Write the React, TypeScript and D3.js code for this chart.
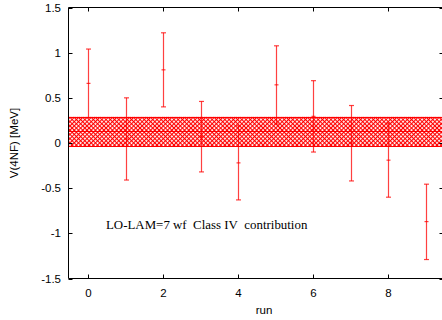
import React from "react";
import * as d3 from "d3";

const runs = [0, 1, 2, 3, 4, 5, 6, 7, 8, 9];
const centers = [0.66, 0.045, 0.81, 0.07, -0.22, 0.644, 0.295, 0.0, -0.19, -0.87];
const lows = [0.28, -0.41, 0.4, -0.32, -0.63, 0.21, -0.1, -0.42, -0.6, -1.29];
const highs = [1.04, 0.5, 1.22, 0.46, 0.19, 1.076, 0.69, 0.415, 0.22, -0.456];
const bandLow = -0.035;
const bandMid = 0.128;
const bandHigh = 0.29;
const xTicks = [0, 2, 4, 6, 8];
const yTicks = [-1.5, -1, -0.5, 0, 0.5, 1, 1.5];
const yTickLabels = ["-1.5", "-1", "-0.5", "0", "0.5", "1", "1.5"];
const annotation = "LO-LAM=7 wf  Class IV  contribution";

export default function App() {
  const W = 442, H = 320;
  const left = 68.5, right = 443.5, top = 7.5, bottom = 278.5;
  const x = d3.scaleLinear().domain([-0.53, 9.47]).range([left, right]);
  const y = d3.scaleLinear().domain([-1.5, 1.5]).range([bottom, top]);
  const red = "#ff0000";
  const font = "'Liberation Sans', Arial, sans-serif";
  return (
    <svg width={W} height={H} style={{ position: "absolute", left: 0, top: 0 }}>
      <defs>
        <pattern id="hatch" width="3" height="3" patternUnits="userSpaceOnUse" patternTransform="rotate(45)">
          <rect width="3" height="3" fill="white" />
          <rect x="0" y="0" width="3" height="1.1" fill={red} />
          <rect x="0" y="0" width="1.1" height="3" fill={red} />
        </pattern>
      </defs>
      <rect x={0} y={0} width={W} height={H} fill="white" />
      {/* band */}
      <rect x={left} y={y(bandHigh)} width={right - left} height={y(bandLow) - y(bandHigh)} fill="url(#hatch)" />
      {[bandHigh, bandMid, bandLow].map((v, i) => (
        <line key={i} x1={left} x2={right} y1={Math.round(y(v)) + 0.5} y2={Math.round(y(v)) + 0.5} stroke={red} strokeWidth={i === 1 ? 1 : 1.2} />
      ))}
      {/* error bars */}
      {runs.map((r, i) => {
        const cx = Math.round(x(r)) + 0.5;
        return (
          <g key={r} stroke={red} strokeOpacity={0.75} strokeWidth={1.2}>
            <line x1={cx} x2={cx} y1={y(highs[i])} y2={y(lows[i])} />
            <line x1={cx - 2.5} x2={cx + 2.5} y1={y(highs[i])} y2={y(highs[i])} />
            <line x1={cx - 2.5} x2={cx + 2.5} y1={y(lows[i])} y2={y(lows[i])} />
            <line x1={cx - 2} x2={cx + 2} y1={y(centers[i])} y2={y(centers[i])} />
          </g>
        );
      })}
      {/* frame */}
      <g stroke="black" strokeWidth={1} fill="none">
        <line x1={left} x2={left} y1={top} y2={bottom} />
        <line x1={left} x2={right} y1={top} y2={top} />
        <line x1={left} x2={right} y1={bottom} y2={bottom} />
        <line x1={right} x2={right} y1={top} y2={bottom} />
        {yTicks.map((t) => (
          <g key={t}>
            <line x1={left} x2={left + 4} y1={Math.round(y(t)) + 0.5} y2={Math.round(y(t)) + 0.5} />
            <line x1={right} x2={right - 4} y1={Math.round(y(t)) + 0.5} y2={Math.round(y(t)) + 0.5} />
          </g>
        ))}
        {xTicks.map((t) => (
          <g key={t}>
            <line x1={Math.round(x(t)) + 0.5} x2={Math.round(x(t)) + 0.5} y1={bottom} y2={bottom - 4} />
            <line x1={Math.round(x(t)) + 0.5} x2={Math.round(x(t)) + 0.5} y1={top} y2={top + 4} />
          </g>
        ))}
      </g>
      {yTicks.map((t, i) => (
        <text key={t} x={61} y={y(t) + 4} textAnchor="end" fontFamily={font} fontSize={11.5} fill="black">
          {yTickLabels[i]}
        </text>
      ))}
      {xTicks.map((t) => (
        <text key={t} x={x(t)} y={297} textAnchor="middle" fontFamily={font} fontSize={11.5} fill="black">
          {t}
        </text>
      ))}
      <text x={264} y={314} textAnchor="middle" fontFamily={font} fontSize={11.5} fill="black">run</text>
      <text transform={`translate(18,${(top + bottom) / 2}) rotate(-90)`} textAnchor="middle" fontFamily={font} fontSize={11.5} fill="black">
        V(4NF) [MeV]
      </text>
      <text x={106} y={229} fontFamily="'Liberation Serif', 'Times New Roman', serif" fontSize={12.9} fill="black">
        {annotation.replace(/ /g, "\u00a0")}
      </text>
    </svg>
  );
}
